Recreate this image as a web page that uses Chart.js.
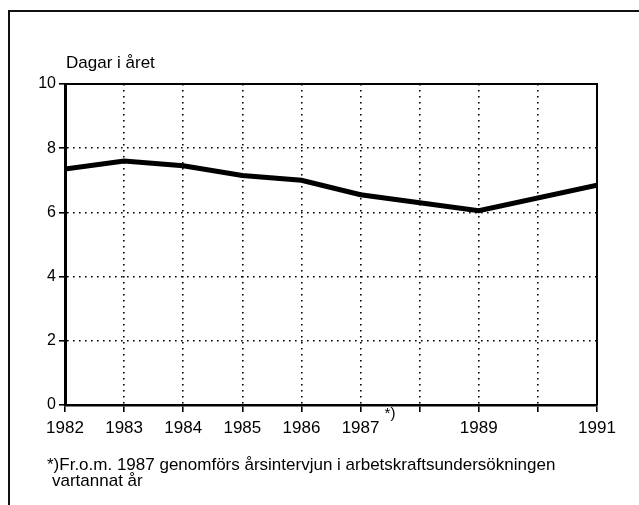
<!DOCTYPE html>
<html>
<head>
<meta charset="utf-8">
<script src="https://cdn.jsdelivr.net/npm/chart.js@4"></script>
<style>
  html, body { margin: 0; padding: 0; background: #fff; }
  #wrap { position: relative; width: 639px; height: 505px; overflow: hidden;
          font-family: "Liberation Sans", Arial, sans-serif; color: #000; }
  #frame { position: absolute; left: 8px; top: 10px; width: 640px; height: 500px;
           border-left: 2px solid #111; border-top: 2px solid #111; }
  canvas { position: absolute; left: 0; top: 0; }
  #ytitle { position: absolute; left: 66px; top: 53px; font-size: 17px; }
  #note { position: absolute; left: 47px; top: 457px; font-size: 17px; line-height: 16px; }
  #note span { padding-left: 5px; }
</style>
</head>
<body>
<div id="wrap">
  <div id="frame"></div>
  <canvas id="chart" width="639" height="505"></canvas>
  <div id="ytitle">Dagar i året</div>
  <div id="note">*)Fr.o.m. 1987 genomförs årsintervjun i arbetskraftsundersökningen<br><span>vartannat år</span></div>
</div>
<script>
// Sjukfrånvaro, dagar per år
const years = [1982, 1983, 1984, 1985, 1986, 1987, 1989, 1991];
const days = [7.35, 7.6, 7.45, 7.15, 7.0, 6.55, 6.05, 6.85];
const yearLabels = [1982, 1983, 1984, 1985, 1986, 1987, 1989, 1991];
const yTicks = [0, 2, 4, 6, 8, 10];

const ink = '#000';
const font = '"Liberation Sans", Arial, sans-serif';

// top/right edge of the plot box + the "*)" mark after 1987
const boxPlugin = {
    id: 'box',
    afterDraw(chart) {
        const { ctx, chartArea: a, scales } = chart;
        ctx.save();
        ctx.strokeStyle = ink;
        ctx.lineWidth = 2;
        ctx.beginPath();
        ctx.moveTo(a.left, a.top);
        ctx.lineTo(a.right, a.top);
        ctx.lineTo(a.right, a.bottom);
        ctx.stroke();
        ctx.fillStyle = ink;
        ctx.font = '15px ' + font;
        ctx.textBaseline = 'top';
        ctx.fillText('*)', scales.x.getPixelForValue(1987) + 24, a.bottom + 1);
        ctx.restore();
    }
};

const ctx = document.getElementById('chart').getContext('2d');
new Chart(ctx, {
    type: 'line',
    data: {
        datasets: [{
            data: years.map((y, i) => ({ x: y, y: days[i] })),
            borderColor: ink,
            borderWidth: 5,
            pointRadius: 0,
            tension: 0,
            fill: false
        }]
    },
    options: {
        responsive: false,
        animation: false,
        devicePixelRatio: 1,
        layout: { padding: { left: 0, right: 42, top: 84, bottom: 70 } },
        plugins: { legend: { display: false }, tooltip: { enabled: false } },
        scales: {
            x: {
                type: 'linear',
                min: years[0],
                max: years[years.length - 1],
                ticks: {
                    stepSize: 1,
                    autoSkip: false,
                    maxRotation: 0,
                    padding: 6,
                    color: ink,
                    font: { size: 17, family: font },
                    callback: v => yearLabels.includes(v) ? String(v) : ''
                },
                grid: { color: ink, lineWidth: 1.6, tickLength: 7, tickColor: ink, tickWidth: 1.6 },
                border: { color: ink, width: 2.5, dash: [1.6, 4.4] },
                afterFit: s => { s.height = 30; }
            },
            y: {
                min: 0,
                max: 10,
                afterBuildTicks: s => { s.ticks = yTicks.map(v => ({ value: v })); },
                ticks: {
                    padding: 3,
                    color: ink,
                    font: { size: 16, family: font }
                },
                grid: { color: ink, lineWidth: 1.6, tickLength: 6, tickColor: ink, tickWidth: 1.6 },
                border: { color: ink, width: 3, dash: [1.6, 4.4] },
                afterFit: s => { s.width = 65; }
            }
        }
    },
    plugins: [boxPlugin]
});
</script>
</body>
</html>
